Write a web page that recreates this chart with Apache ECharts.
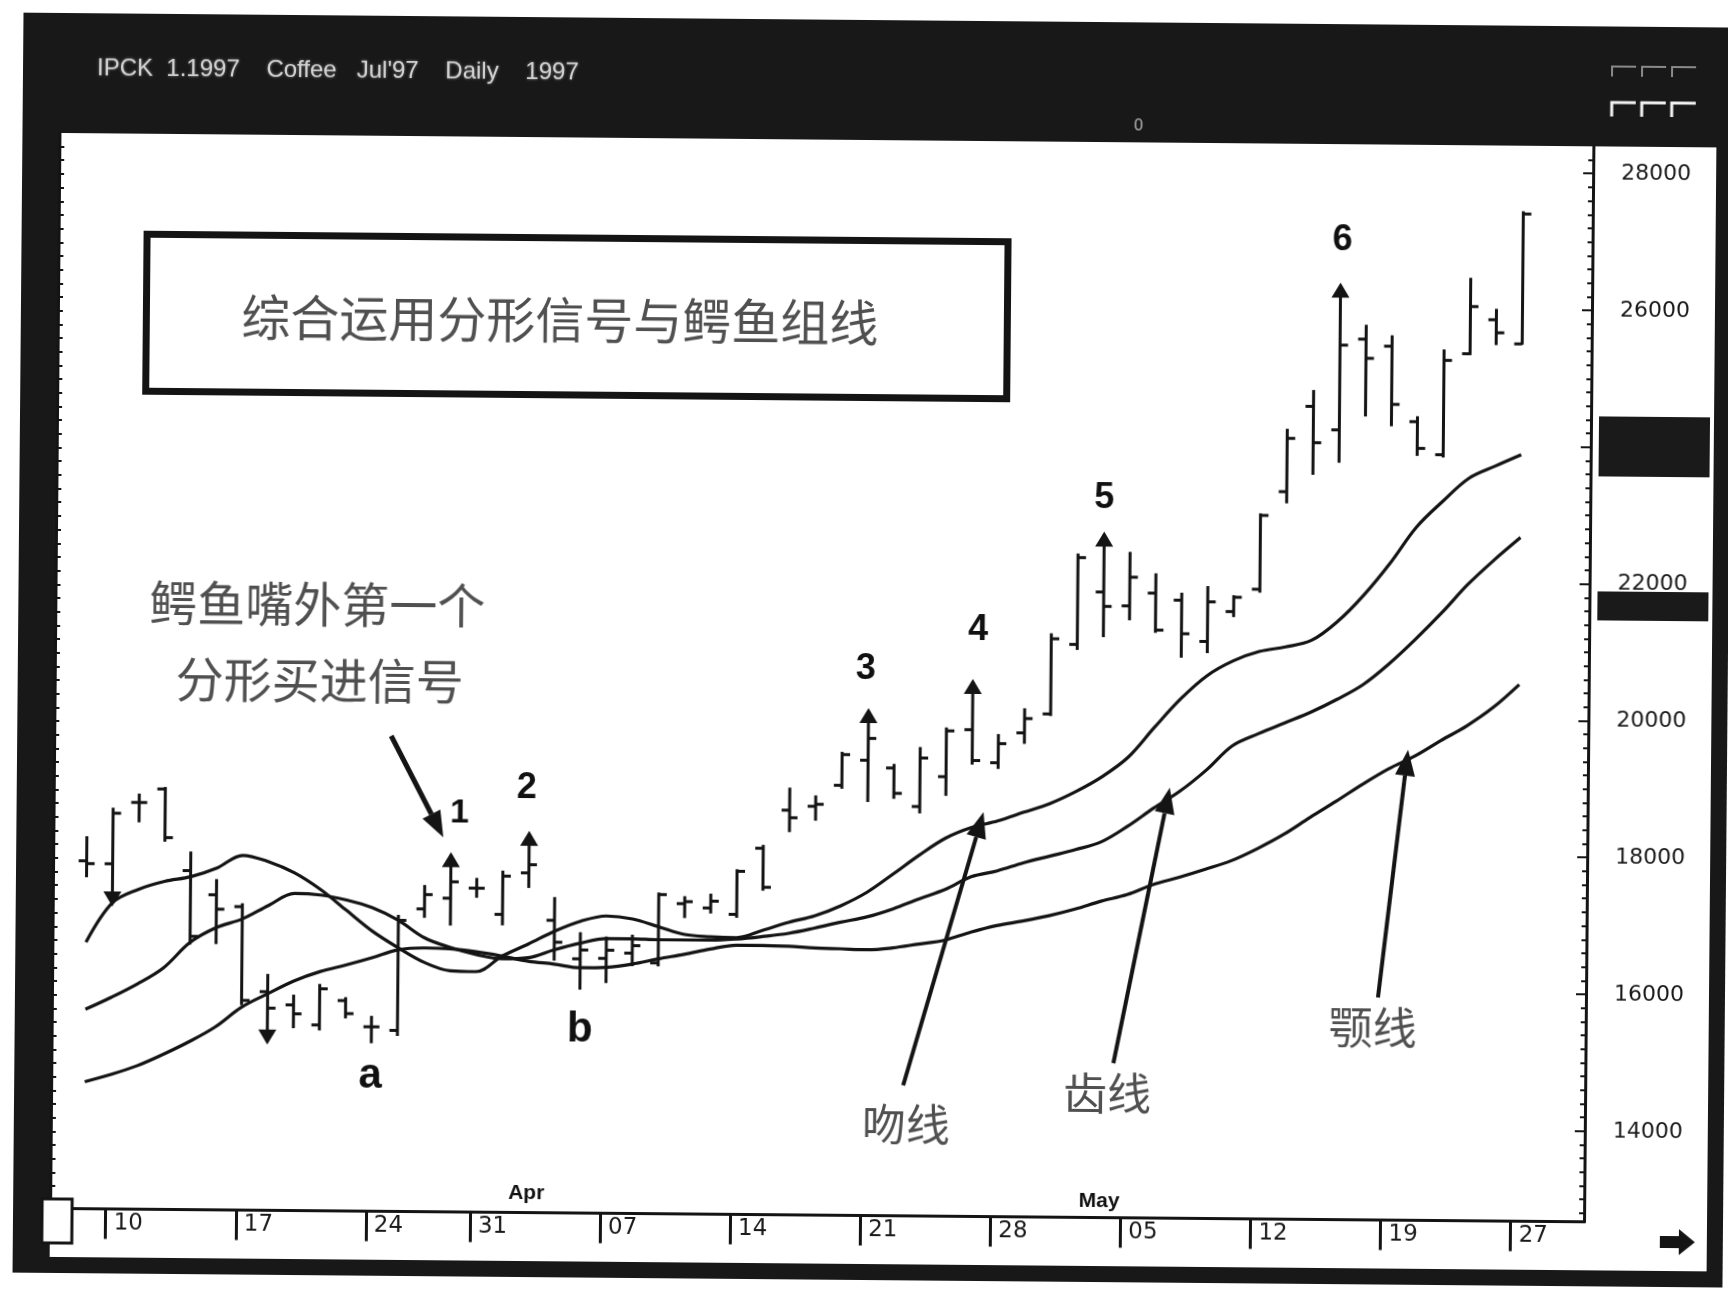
<!DOCTYPE html>
<html><head><meta charset="utf-8">
<script src="https://cdn.jsdelivr.net/npm/echarts@6/dist/echarts.min.js"></script>
<style>
html,body{margin:0;padding:0;background:#fff;overflow:hidden;}
#chart{width:1728px;height:1295px;transform:rotate(0.5deg);transform-origin:50% 50%;}
</style></head><body><div id="chart"></div>
<script>
// ---------- data (Coffee Jul'97, daily) ----------
const dates = ['03-07','03-10','03-11','03-12','03-13','03-14','03-17','03-18','03-19','03-20','03-21',
 '03-24','03-25','03-26','03-27','03-31','04-01','04-02','04-03','04-04','04-07','04-08','04-09','04-10','04-11',
 '04-14','04-15','04-16','04-17','04-18','04-21','04-22','04-23','04-24','04-25','04-28','04-29','04-30','05-01','05-02',
 '05-05','05-06','05-07','05-08','05-09','05-12','05-13','05-14','05-15','05-16','05-19','05-20','05-21','05-22','05-23','05-27'];
const weekTickIdx = [1,6,11,15,20,25,30,35,40,45,50,55];
const weekTickLabels = ['10','17','24','31','07','14','21','28','05','12','19','27'];
const priceTicks = [14000,16000,18000,20000,22000,24000,26000,28000];

const openP  = [17760,17720,18620,18820,17630,17280,17110,15870,15680,15390,15750,15370,15320,17100,17260,17410,17030,17640,16950,16390,
 16400,16480,16340,17210,17150,17060,18030,18590,18650,18960,19330,19220,18660,19100,19790,19310,19750,20030,21050,21820,
 21620,21810,21710,21110,21550,21880,23310,24560,24220,25550,25450,24350,23870,25350,25850,25500];
const highP  = [18120,18540,18750,18850,17910,17510,17160,16130,15830,15990,15800,15530,17010,17450,17890,17560,17670,18210,17290,16780,
 16720,16750,17370,17320,17360,17720,18080,18920,18810,19450,20050,19280,19530,19820,20490,19730,20110,21210,22380,22660,
 22410,22100,21820,21920,21790,22990,24230,24800,26330,25760,25610,24430,25410,26460,26010,27440];
const lowP   = [17520,17140,18330,18050,16550,16560,15670,15140,15340,15310,15490,15130,15240,16970,16860,17270,16870,17420,16360,15940,
 16040,16290,16290,17000,17070,17010,17410,18270,18440,18910,18720,18770,18560,18820,19280,19220,19590,20000,20970,21160,
 21410,21230,20870,20940,21470,21830,23140,23560,23740,24420,24280,23850,23830,25330,25480,25490];
const closeP = [17720,18460,18620,18110,16670,17070,15740,15630,15550,15920,15560,15370,16930,17310,17500,17410,17590,17760,16630,16520,
 16520,16590,17340,17240,17250,17690,17460,18480,18680,19410,19650,18850,19370,19770,19340,19590,19960,21130,22320,21610,
 22040,21270,21220,21690,21760,22960,24090,24030,25460,25270,24600,23960,25250,26040,25660,27400];

// Alligator lines
const lips  = [16570,17150,17350,17470,17540,17670,17860,17770,17610,17370,17070,16770,16530,16320,16200,16190,16420,16600,16790,16940,
 17020,16980,16870,16760,16730,16720,16830,16950,17050,17200,17400,17670,17950,18200,18360,18460,18590,18720,18900,19120,
 19410,19850,20270,20610,20830,20970,21040,21140,21420,21810,22280,22810,23190,23530,23710,23880];
const teeth = [15590,15770,15970,16210,16580,16800,16930,17130,17310,17290,17220,17110,16930,16680,16540,16440,16380,16400,16520,16620,
 16690,16690,16680,16680,16680,16700,16740,16790,16870,16960,17040,17160,17310,17450,17640,17730,17850,17950,18050,18170,
 18400,18670,18920,19230,19590,19770,19930,20090,20280,20500,20810,21170,21560,21980,22340,22670];
const jaw   = [14530,14640,14770,14940,15130,15350,15640,15840,16030,16170,16270,16380,16500,16530,16520,16480,16420,16350,16310,16260,
 16270,16320,16400,16470,16550,16610,16610,16600,16580,16570,16560,16590,16650,16710,16830,16930,17000,17080,17180,17300,
 17400,17550,17660,17780,17910,18090,18300,18550,18790,19040,19270,19460,19690,19910,20180,20520];

const upFractals = [14,17,30,34,39,48];
const downFractals = [1,7];

// ---------- build ----------
const ohlc = dates.map((d,i)=>[i, openP[i], closeP[i], lowP[i], highP[i],
  upFractals.includes(i) ? 1 : (downFractals.includes(i) ? -1 : 0)]);
const toLine = arr => dates.map((d,i)=>[i, arr[i]]);

const INK = '#141414';
function renderOHLC(params, api) {
  const i = api.value(0);
  const o = api.coord([i, api.value(1)]);
  const c = api.coord([i, api.value(2)]);
  const l = api.coord([i, api.value(3)]);
  const h = api.coord([i, api.value(4)]);
  const f = api.value(5);
  const x = h[0], t = 8;
  const st = {stroke: INK, lineWidth: 3};
  const ch = [
    {type:'line', shape:{x1:x, y1:h[1], x2:x, y2:l[1]}, style:st},
    {type:'line', shape:{x1:x-t, y1:o[1], x2:x, y2:o[1]}, style:st},
    {type:'line', shape:{x1:x, y1:c[1], x2:x+t, y2:c[1]}, style:st}
  ];
  if (f === 1) ch.push({type:'polygon', shape:{points:[[x,h[1]-3],[x-9,h[1]+12],[x+9,h[1]+12]]}, style:{fill:INK}});
  if (f === -1) ch.push({type:'polygon', shape:{points:[[x,l[1]+3],[x-9,l[1]-12],[x+9,l[1]-12]]}, style:{fill:INK}});
  return {type:'group', children: ch};
}

const minorVals = [];
for (let v = 12800; v <= 28200; v += 200) minorVals.push(v);

function arrow(x1,y1,x2,y2,w){
  const a = Math.atan2(y2-y1, x2-x1), L = 26, W = 10;
  const bx = x2 - L*Math.cos(a), by = y2 - L*Math.sin(a);
  const px = -Math.sin(a)*W, py = Math.cos(a)*W;
  return [
    {type:'line', z:60, shape:{x1:x1,y1:y1,x2:bx,y2:by}, style:{stroke:INK, lineWidth:w}},
    {type:'polygon', z:60, shape:{points:[[x2,y2],[bx+px,by+py],[bx-px,by-py]]}, style:{fill:INK}}
  ];
}
function txt(x,y,s,size,opts){
  return {type:'text', z:60, style:Object.assign({x:x, y:y, text:s, fontSize:size,
    fontFamily:'Noto Sans CJK SC', fill:'#505050', align:'center', verticalAlign:'middle'}, opts||{})};
}
const bold = {fontFamily:'Liberation Sans', fontWeight:'bold', fill:'#111'};

const graphics = [
  // scan frame
  {type:'rect', z:-20, shape:{x:18, y:20, width:1740, height:1260}, style:{fill:'#181818'}},
  {type:'rect', z:-19, shape:{x:55, y:140, width:1657, height:1124}, style:{fill:'#fff'}},
  {type:'rect', z:40, shape:{x:47, y:1206, width:30, height:44}, style:{fill:'#fff', stroke:INK, lineWidth:3}},
  // dark boxes in price strip
  {type:'rect', z:70, shape:{x:1597, y:410, width:111, height:60}, style:{fill:'#1a1a1a'}},
  {type:'rect', z:70, shape:{x:1597, y:585, width:111, height:29}, style:{fill:'#1a1a1a'}},
  // title box
  {type:'rect', z:55, shape:{x:143.5, y:240.5, width:861, height:157}, style:{fill:'#fff', stroke:INK, lineWidth:7}},
  txt(557, 322, '综合运用分形信号与鳄鱼组线', 49),
  txt(317, 609, '鳄鱼嘴外第一个', 48),
  txt(320, 685, '分形买进信号', 48),
  txt(910, 1124, '吻线', 44),
  txt(1111, 1091, '齿线', 44),
  txt(1376, 1023, '颚线', 44),
  txt(461, 817, '1', 34, bold),
  txt(528, 791, '2', 36, bold),
  txt(866, 669, '3', 36, bold),
  txt(978, 629, '4', 36, bold),
  txt(1103, 496, '5', 36, bold),
  txt(1339, 236, '6', 36, bold),
  txt(374, 1080, 'a', 42, bold),
  txt(583, 1032, 'b', 42, bold),
  txt(531, 1196, 'Apr', 21, bold),
  txt(1104, 1199, 'May', 21, bold),
  // header text in the black band
  txt(92, 75, "IPCK  1.1997    Coffee   Jul'97    Daily    1997", 24,
      {align:'left', fontFamily:'Liberation Sans', fill:'#cfcfcf', textShadowColor:'#888', textShadowBlur:3}),
  txt(1134, 124, '0', 16, {fontFamily:'Liberation Sans', fill:'#bbb'}),
  // bottom-right arrow
  {type:'polygon', z:60, shape:{points:[[1665,1229],[1684,1229],[1684,1222],[1700,1235],[1684,1248],[1684,1241],[1665,1241]]}, style:{fill:INK}}
];
// top-right white glyphs
[1607,1637,1667].forEach(x=>{
  graphics.push({type:'polyline', z:60, shape:{points:[[x,110],[x,96],[x+24,96]]}, style:{stroke:'#f2f2f2', lineWidth:3, fill:null}});
  graphics.push({type:'polyline', z:60, shape:{points:[[x,70],[x,60],[x+24,60]]}, style:{stroke:'#8a8a8a', lineWidth:2, fill:null}});
});
// annotation arrows
graphics.push(...arrow(392,740,445,841,5));
graphics.push(...arrow(907,1085,985,811,4));
graphics.push(...arrow(1117,1061,1171,785,4));
graphics.push(...arrow(1381,993,1409,745,4));

const Y_MIN = 12674, Y_MAX = 28398;
const lineStyle = {color: INK, width: 3.2};

const option = {
  backgroundColor: '#fff',
  animation: false,
  grid: {left: 55, right: 139, top: 140, bottom: 79.5},
  xAxis: {
    type: 'value', min: -1.29, max: 57.67,
    axisLine: {show: true, onZero: false, lineStyle: {color: INK, width: 3}},
    axisTick: {show: true, inside: false, length: 30, lineStyle: {color: INK, width: 3},
      customValues: weekTickIdx.map(i => i - 0.15)},
    axisLabel: {show: true, customValues: weekTickIdx.map(i => i - 0.15),
      formatter: v => weekTickLabels[weekTickIdx.indexOf(Math.round(v + 0.15))] || '',
      align: 'left', padding: [0,0,0,8], margin: 3, fontSize: 23, lineHeight: 23,
      fontFamily: 'DejaVu Sans', color: '#1a1a1a'},
    splitLine: {show: false}
  },
  yAxis: [
    {type: 'value', position: 'right', min: Y_MIN, max: Y_MAX,
      axisLine: {show: true, onZero: false, lineStyle: {color: INK, width: 3}},
      axisTick: {show: true, inside: true, length: 10, lineStyle: {color: INK, width: 2}, customValues: priceTicks},
      axisLabel: {show: true, customValues: priceTicks, margin: 28, align: 'left', fontSize: 22,
        fontFamily: 'DejaVu Sans', color: '#1a1a1a', formatter: v => String(Math.round(v))},
      splitLine: {show: false}},
    {type: 'value', position: 'right', min: Y_MIN, max: Y_MAX,
      axisLine: {show: false, onZero: false},
      axisTick: {show: true, inside: true, length: 5, lineStyle: {color: INK, width: 2}, customValues: minorVals},
      axisLabel: {show: false}, splitLine: {show: false}},
    {type: 'value', position: 'left', min: Y_MIN, max: Y_MAX,
      axisLine: {show: true, onZero: false, lineStyle: {color: INK, width: 3}},
      axisTick: {show: true, inside: true, length: 5, lineStyle: {color: INK, width: 2}, customValues: minorVals},
      axisLabel: {show: false}, splitLine: {show: false}}
  ],
  graphic: {elements: graphics},
  series: [
    {type: 'line', name: '颚线', data: toLine(jaw), yAxisIndex: 0, smooth: 0.35, showSymbol: false, lineStyle: lineStyle, z: 3},
    {type: 'line', name: '齿线', data: toLine(teeth), yAxisIndex: 0, smooth: 0.35, showSymbol: false, lineStyle: lineStyle, z: 3},
    {type: 'line', name: '吻线', data: toLine(lips), yAxisIndex: 0, smooth: 0.35, showSymbol: false, lineStyle: lineStyle, z: 3},
    {type: 'custom', name: 'OHLC', data: ohlc, yAxisIndex: 0, renderItem: renderOHLC,
      encode: {x: 0, y: [1,2,3,4]}, z: 4}
  ]
};
const chart = echarts.init(document.getElementById('chart'), null, {renderer: 'canvas'});
chart.setOption(option);
</script></body></html>
